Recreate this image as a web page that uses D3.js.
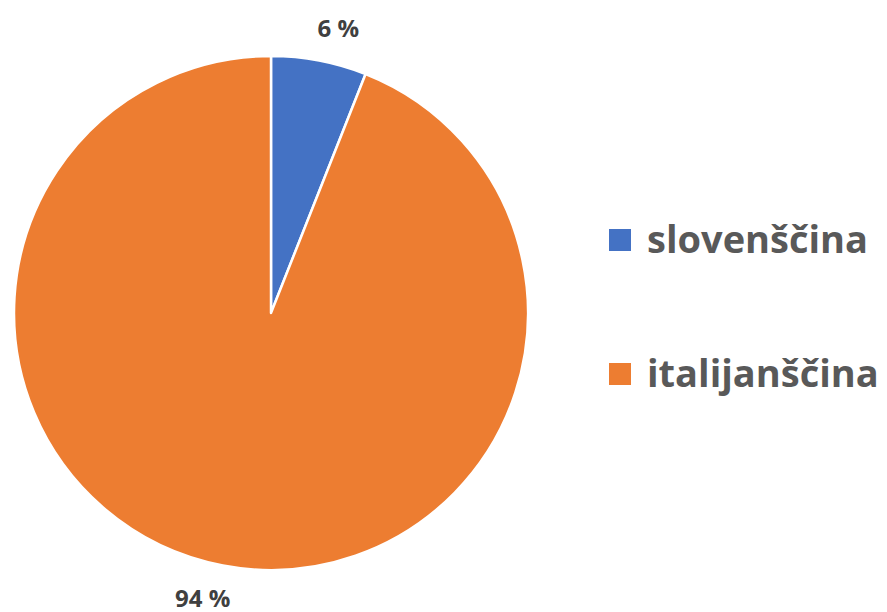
<!DOCTYPE html>
<html>
<head>
<meta charset="utf-8">
<script src="https://cdn.jsdelivr.net/npm/d3@7"></script>
<style>
  html, body { margin: 0; padding: 0; background: #ffffff; }
  svg { display: block; font-family: "Open Sans", Lato, "Liberation Sans", sans-serif; }
</style>
</head>
<body>
<svg id="chart" width="887" height="612"></svg>
<script>
// Jezik – deleži (%)
const categories = ["slovenščina", "italijanščina"];
const values = [6, 94];
const valueLabels = ["6 %", "94 %"];
const colors = ["#4472C4", "#ED7D31"];

const svg = d3.select("#chart");
const cx = 271, cy = 313, radius = 257;

const pie = d3.pie().sort(null).value(d => d.value);
const data = pie(categories.map((c, i) => ({ name: c, value: values[i], label: valueLabels[i] })));
const color = d3.scaleOrdinal().domain(categories).range(colors);

const arc = d3.arc().innerRadius(0).outerRadius(radius);
const labelArc = d3.arc().innerRadius(radius + 13).outerRadius(radius + 13);

const g = svg.append("g").attr("transform", `translate(${cx},${cy})`);

g.selectAll("path.slice")
  .data(data)
  .join("path")
  .attr("class", "slice")
  .attr("d", arc)
  .attr("fill", d => color(d.data.name))
  .attr("stroke", "#ffffff")
  .attr("stroke-width", 2.5)
  .attr("stroke-linejoin", "round");

// Value labels just outside the rim, anchored away from the pie
g.selectAll("text.val")
  .data(data)
  .join("text")
  .attr("class", "val")
  .each(function(d) {
    const [x, y] = labelArc.centroid(d);
    const right = x >= 0, top = y < 0;
    d3.select(this)
      .attr("x", right ? x - 4 : x + 10)
      .attr("y", top ? y - 11 : y + 29)
      .attr("text-anchor", right ? "start" : "end");
  })
  .attr("font-size", 24)
  .attr("font-weight", 700)
  .attr("fill", "#404040")
  .text(d => d.data.label);

// Legend
const legend = svg.append("g").attr("transform", "translate(609,229)");
const item = legend.selectAll("g")
  .data(categories)
  .join("g")
  .attr("transform", (d, i) => `translate(0,${i * 134})`);

item.append("rect")
  .attr("width", 22)
  .attr("height", 22)
  .attr("fill", d => color(d));

item.append("text")
  .attr("x", 38)
  .attr("y", 24)
  .attr("font-size", 38)
  .attr("font-weight", 700)
  .attr("fill", "#595959")
  .text(d => d);
</script>
</body>
</html>
